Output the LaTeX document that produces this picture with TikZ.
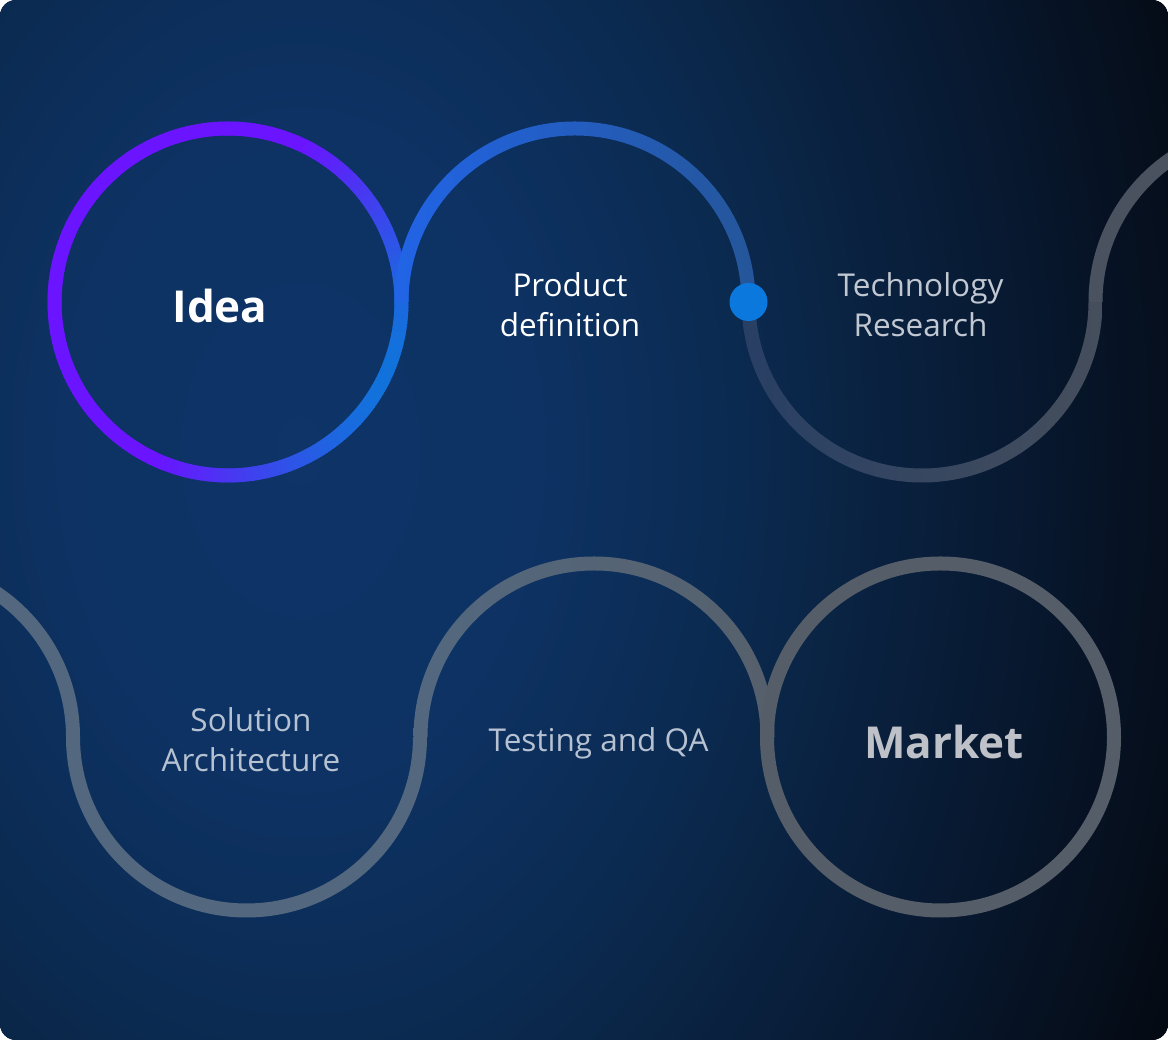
\documentclass[tikz,border=0pt]{standalone}
\usepackage{fontspec}
\setmainfont{Open Sans}
\usetikzlibrary{positioning}

\definecolor{bgA}{HTML}{0E3468}
\definecolor{bgB}{HTML}{0D3263}
\definecolor{bgC}{HTML}{0B2A50}
\definecolor{bgD}{HTML}{0A2444}
\definecolor{bgE}{HTML}{081A33}
\definecolor{bgF}{HTML}{06101F}
\definecolor{bgG}{HTML}{03070D}
\definecolor{ideaA}{HTML}{6A14FF}
\definecolor{ideaB}{HTML}{1272DC}
\definecolor{prodA}{HTML}{2164E6}
\definecolor{prodM}{HTML}{0A7ADE}
\definecolor{prodB}{HTML}{25569A}
\definecolor{techA}{HTML}{283F64}
\definecolor{techB}{HTML}{454E5C}
\definecolor{nextC}{HTML}{4A5260}
\definecolor{slate}{HTML}{53687F}
\definecolor{testB}{HTML}{56606C}
\definecolor{mktC}{HTML}{555D68}
\definecolor{dotblue}{HTML}{0A78DC}
\definecolor{dimtext}{HTML}{C2C8D2}
\definecolor{slatetext}{HTML}{B6C2D2}
\definecolor{mkttext}{HTML}{BEC2C8}

\pgfdeclareradialshading{bgglow}{\pgfpoint{0bp}{0bp}}{color(0bp)=(bgA); color(6bp)=(bgB); color(11bp)=(bgC); color(13.5bp)=(bgD); color(17.5bp)=(bgE); color(21.5bp)=(bgF); color(25bp)=(bgG); color(50bp)=(bgG)}

\begin{document}
\begin{tikzpicture}[x=1pt, y=1pt]
    \tikzset{track/.style = {line width=14pt, draw=#1},
             stage/.style = {text=#1, align=center, anchor=base, font=\fontsize{31.5}{40}\selectfont},
             milestone/.style = {text=#1, anchor=base, font=\fontsize{44}{50}\selectfont\bfseries}}
    \useasboundingbox (0,0) rectangle (1168,1040);
    \fill[white] (0,0) rectangle (1168,1040);

    % centres of the loops
    \coordinate (idea) at (228,738);
    \coordinate (prod) at (575,738);
    \coordinate (tech) at (922,738);
    \coordinate (next) at (1269,738);
    \coordinate (prev) at (-100.5,303);
    \coordinate (sol)  at (246.5,303);
    \coordinate (test) at (594,303);
    \coordinate (mkt)  at (940.5,303);

    \begin{scope}
        \clip[rounded corners=16pt] (0,0) rectangle (1168,1040);
        \fill[bgG] (0,0) rectangle (1168,1040);
        \shade[shading=bgglow] (300,590) ellipse [x radius=1000, y radius=1400];

        % top row
        \foreach \a in {0,...,359} {
            \pgfmathsetmacro\t{max(0,cos(\a+25))}
            \pgfmathsetmacro\p{100*(0.8*\t+0.2*\t*\t)}
            \colorlet{segcol}{ideaB!\p!ideaA}
            \draw[track=segcol] ([shift={(\a:173.5)}]idea) arc[start angle=\a, end angle=\a+1.6, radius=173.5];
        }
        \shade[left color=prodA, middle color=prodM, right color=prodB]
            ([shift={(180:180.5)}]prod) arc[start angle=180, end angle=0, radius=180.5]
            -- ([shift={(0:166.5)}]prod) arc[start angle=0, end angle=180, radius=166.5] -- cycle;
        \shade[left color=techA, right color=techB]
            ([shift={(180:180.5)}]tech) arc[start angle=180, end angle=360, radius=180.5]
            -- ([shift={(0:166.5)}]tech) arc[start angle=360, end angle=180, radius=166.5] -- cycle;
        \draw[track=nextC] ([shift={(180:173.5)}]next) arc[start angle=180, end angle=90, radius=173.5];

        % bottom row
        \draw[track=slate] ([shift={(90:173.5)}]prev) arc[start angle=90, end angle=0, radius=173.5];
        \draw[track=slate] ([shift={(180:173.5)}]sol) arc[start angle=180, end angle=360, radius=173.5];
        \shade[left color=slate, right color=testB]
            ([shift={(180:180.5)}]test) arc[start angle=180, end angle=0, radius=180.5]
            -- ([shift={(0:166.5)}]test) arc[start angle=0, end angle=180, radius=166.5] -- cycle;
        \draw[track=mktC] (mkt) circle (173.5);
    \end{scope}

    \node[circle, fill=dotblue, minimum size=38pt, inner sep=0pt] (dot) at (748.5,738) {};

    \node[milestone=white] (idea-text) at (220,717) {Idea};
    \node[stage=white] (prod-text) at (570,703.3) {Product\\definition};
    \node[stage=dimtext] (tech-text) at (920.5,703.3) {Technology\\Research};
    \node[stage=slatetext] (sol-text) at (251,268.3) {Solution\\Architecture};
    \node[stage=slatetext] (test-text) at (598.5,288.3) {Testing and QA};
    \node[milestone=mkttext] (mkt-text) at (944,281.7) {Market};
\end{tikzpicture}
\end{document}
